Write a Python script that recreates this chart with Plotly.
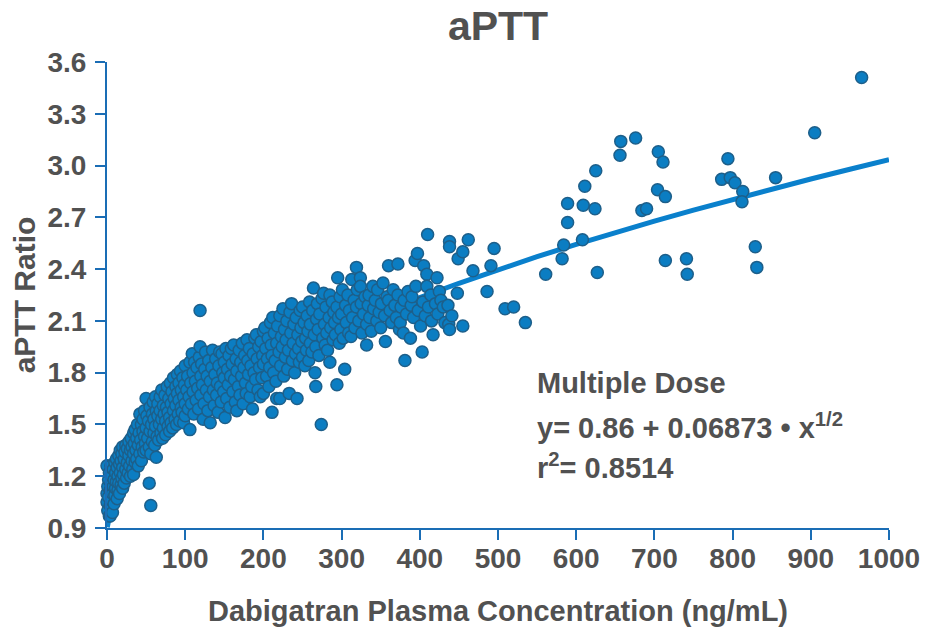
import plotly.graph_objects as go

# ---------------- data ----------------
conc_a = [0, 0, 0, 1, 1, 2, 2, 3, 3, 4, 4, 4, 5, 5, 6, 6, 7, 7, 8, 8, 9, 9, 10, 10, 11, 11, 12, 12, 13, 13,
          14, 14, 15, 15, 16, 16, 17, 17, 18, 18, 19, 19, 20, 20, 20]
ratio_a = [1.05, 1.10, 1.26, 1.00, 1.14, 1.08, 1.18, 0.97, 1.22, 1.03, 1.12, 0.97, 1.26, 1.16, 1.06, 1.20, 1.10, 0.99,
           1.24, 1.14, 1.04, 1.18, 1.28, 1.09, 1.22, 1.13, 1.17, 1.30, 1.07, 1.25,
           1.20, 1.12, 1.32, 1.16, 1.27, 1.10, 1.22, 1.35, 1.15, 1.29, 1.19, 1.33, 1.25, 1.37, 1.13]

conc_b = [21, 22, 22, 23, 24, 24, 25, 26, 26, 27, 28, 28, 29, 30, 30, 31, 32, 32, 33, 34, 34, 34, 35, 36, 36,
          37, 38, 38, 39, 40, 40, 41, 42, 42, 43, 44, 44, 45, 46, 46, 47, 48, 48, 49, 50, 50, 50, 51]
ratio_b = [1.21, 1.30, 1.16, 1.34, 1.24, 1.38, 1.19, 1.28, 1.36, 1.22, 1.32, 1.40, 1.26, 1.35, 1.20, 1.42, 1.29, 1.37,
           1.24, 1.33, 1.45, 1.21, 1.39, 1.28, 1.47, 1.35, 1.42, 1.30, 1.50, 1.38, 1.26, 1.45, 1.56, 1.33,
           1.41, 1.50, 1.29, 1.37, 1.46, 1.53, 1.34, 1.43, 1.58, 1.39, 1.48, 1.65, 1.35, 1.55]

conc_c = [52, 53, 54, 54, 55, 55, 56, 56, 57, 58, 58, 59, 60, 60, 61, 62, 62, 63, 63, 64, 65, 65, 66, 67, 68, 68,
          69, 70, 70, 71, 72, 72, 73, 74, 75, 75, 76, 77, 78, 78, 79, 80, 80, 81, 82, 82, 83, 84, 85, 85,
          86, 87, 88, 88, 89, 90, 90, 91, 92, 92, 93, 94, 95, 95, 96, 97, 98, 98, 99, 100, 100, 100]
ratio_c = [1.42, 1.52, 1.37, 1.16, 1.60, 1.46, 1.33, 1.03, 1.50, 1.56, 1.40, 1.63, 1.45, 1.53, 1.38, 1.66, 1.49,
           1.58, 1.31, 1.43, 1.55, 1.62, 1.41, 1.50, 1.58, 1.66, 1.45, 1.53, 1.70, 1.42, 1.61, 1.48, 1.56,
           1.67, 1.44, 1.52, 1.60, 1.72, 1.49, 1.57, 1.65, 1.46, 1.54, 1.74, 1.62, 1.51, 1.69, 1.48, 1.58,
           1.77, 1.65, 1.53, 1.72, 1.61, 1.50, 1.68, 1.79, 1.56, 1.64, 1.74, 1.52, 1.81, 1.60, 1.70, 1.57,
           1.77, 1.66, 1.51, 1.73, 1.62, 1.84, 1.55]

conc_d = [102, 103, 104, 105, 106, 106, 107, 108, 109, 110, 110, 111, 112, 113, 114, 115, 116, 117, 118, 119,
          119, 120, 120, 121, 122, 123, 124, 125, 126, 127, 128, 129, 130, 131, 132, 132, 134, 135, 136, 137,
          138, 139, 140, 141, 142, 143, 144, 145, 146, 147, 148, 149, 150, 150, 151]
ratio_d = [1.70, 1.78, 1.59, 1.66, 1.47, 1.86, 1.74, 1.62, 1.91, 1.69, 1.80, 1.56, 1.86, 1.75, 1.64, 1.83, 1.71,
           1.59, 1.89, 1.95, 2.16, 1.78, 1.67, 1.85, 1.73, 1.53, 1.62, 1.82, 1.92, 1.70, 1.78, 1.58, 1.87,
           1.66, 1.51, 1.75, 1.83, 1.93, 1.70, 1.61, 1.79, 1.88, 1.67, 1.74, 1.57, 1.84, 1.92, 1.72, 1.63,
           1.91, 1.80, 1.69, 1.86, 1.77, 1.54]

conc_e = [152, 153, 154, 155, 156, 157, 158, 159, 160, 161, 162, 163, 164, 165, 166, 166, 168, 169, 170, 171,
          172, 173, 174, 175, 176, 177, 178, 179, 180, 181, 182, 183, 184, 185, 186, 187, 188, 189, 190, 191,
          192, 193, 194, 195, 196, 197, 198, 199, 200, 200, 200]
ratio_e = [1.94, 1.65, 1.82, 1.73, 1.90, 1.60, 1.78, 1.94, 1.85, 1.69, 1.96, 1.76, 1.63, 1.88, 1.58, 1.81, 1.72,
           1.93, 1.67, 1.86, 1.78, 1.97, 1.62, 1.83, 1.90, 1.74, 1.68, 1.99, 1.87, 1.79, 1.94, 1.66, 1.84,
           1.72, 1.59, 1.91, 1.80, 2.00, 1.76, 2.02, 1.88, 1.70, 1.95, 1.83, 1.66, 1.98, 1.77, 1.90, 1.68,
           2.04, 1.85]

conc_f = [202, 203, 204, 205, 206, 207, 208, 209, 210, 211, 211, 212, 213, 214, 215, 216, 217, 217, 218, 220,
          221, 221, 222, 223, 224, 225, 226, 227, 228, 229, 230, 231, 232, 233, 234, 235, 236, 237, 238, 239,
          240, 241, 242, 243, 244, 245, 246, 247, 248, 249, 250, 250, 252, 253, 254, 255, 256, 257, 258, 259,
          260, 260]
ratio_f = [2.06, 1.94, 1.78, 1.88, 2.00, 1.72, 1.83, 2.09, 1.96, 1.57, 1.90, 2.12, 1.80, 2.03, 1.87, 1.75, 1.97,
           1.65, 2.07, 1.92, 2.13, 1.65, 1.84, 2.01, 1.95, 2.17, 1.78, 2.05, 1.89, 1.99, 2.10, 1.82, 1.93,
           1.68, 2.15, 2.03, 2.20, 1.87, 1.97, 2.08, 1.80, 1.91, 2.12, 1.65, 2.02, 1.94, 1.86, 2.16, 2.06,
           1.98, 2.18, 1.89, 2.09, 1.84, 2.00, 1.93, 2.13, 2.04, 1.87, 2.21, 1.97, 2.08]

conc_g = [262, 263, 264, 265, 266, 267, 267, 268, 269, 270, 271, 272, 274, 275, 276, 277, 278, 279, 280, 281,
          282, 284, 285, 285, 286, 288, 289, 290, 291, 292, 294, 294, 295, 296, 297, 298, 299, 300, 301, 302,
          304, 305, 306, 308, 309, 310, 312, 313, 314, 316, 317, 319, 319, 320, 322, 324, 324, 325, 326, 328,
          330, 332, 332]
ratio_g = [1.92, 2.16, 2.29, 2.02, 1.80, 1.72, 1.95, 2.11, 2.20, 2.05, 1.90, 2.14, 1.50, 2.23, 2.00, 2.26, 2.08,
           1.96, 2.18, 2.03, 1.93, 2.12, 2.25, 1.86, 2.06, 2.21, 1.99, 2.15, 2.09, 2.02, 1.73, 2.18, 2.35,
           2.12, 1.97, 2.24, 2.05, 2.14, 2.28, 2.00, 1.82, 2.19, 2.09, 2.25, 2.03, 2.16, 2.01, 2.34, 2.12,
           2.22, 2.06, 2.41, 2.18, 2.28, 2.10, 2.35, 2.30, 2.20, 2.03, 2.14, 2.24, 1.96, 2.08]

conc_h = [334, 335, 336, 338, 340, 341, 343, 345, 346, 348, 350, 351, 353, 355, 356, 358, 360, 360, 362, 364,
          366, 368, 370, 372, 372, 374, 375, 376, 379, 380, 381, 383, 385, 388, 389, 390, 392, 394, 395, 397,
          398, 401, 403, 404, 405, 407, 409, 409, 410, 411, 414, 415, 417, 420, 422, 423, 425, 427, 430, 432,
          436, 437, 438, 438, 438, 441, 448, 449, 455, 455, 462, 468, 486, 491, 495]
ratio_h = [2.19, 2.25, 2.12, 2.04, 2.30, 2.17, 2.22, 2.10, 2.28, 2.15, 2.06, 2.20, 2.32, 2.13, 1.98, 2.24, 2.22,
           2.42, 2.16, 2.09, 2.28, 2.19, 2.12, 2.43, 2.25, 2.05, 2.09, 2.18, 2.03, 2.22, 1.87, 2.14, 2.27,
           2.00, 2.19, 2.24, 2.12, 2.45, 2.30, 2.49, 2.16, 2.07, 1.92, 2.21, 2.42, 2.13, 2.37, 2.30, 2.60,
           2.18, 2.25, 2.10, 2.02, 2.20, 2.35, 2.14, 2.27, 2.22, 2.18, 2.09, 2.19, 2.08, 2.05, 2.56, 2.53,
           2.13, 2.26, 2.46, 2.50, 2.07, 2.57, 2.39, 2.27, 2.42, 2.52]

conc_i = [509, 520, 535, 561, 582, 584, 589, 589, 608, 609, 611, 625, 624, 627, 657, 656, 676, 684, 690, 705,
          711, 704, 714, 714, 741, 742, 786, 794, 797, 803, 813, 812, 829, 831, 855, 905, 965]
ratio_i = [2.17, 2.18, 2.09, 2.37, 2.46, 2.54, 2.67, 2.78, 2.57, 2.77, 2.88, 2.97, 2.75, 2.38, 3.14, 3.06, 3.16,
           2.74, 2.75, 3.08, 3.02, 2.86, 2.82, 2.45, 2.46, 2.37, 2.92, 3.04, 2.93, 2.90, 2.85, 2.79, 2.53,
           2.41, 2.93, 3.19, 3.51]

# fitted model shown on the chart: y = a + b * x^(1/2)
fit_a = 0.86
fit_b = 0.06873
fit_x = [0.4, 2, 5, 10, 20, 40, 70, 100, 150, 200, 250, 300, 350, 400, 450, 500, 550, 600, 650, 700,
         750, 800, 850, 900, 950, 1000]

x_ticks = [0, 100, 200, 300, 400, 500, 600, 700, 800, 900, 1000]
y_ticks = [0.9, 1.2, 1.5, 1.8, 2.1, 2.4, 2.7, 3.0, 3.3, 3.6]

title_text = "aPTT"
x_title = "Dabigatran Plasma Concentration (ng/mL)"
y_title = "aPTT Ratio"
note_lines = ["Multiple Dose", "y= 0.86 + 0.06873 • x<sup>1/2</sup>", "r<sup>2</sup>= 0.8514"]
note_y = [1.74, 1.49, 1.26]

# ---------------- figure ----------------
conc = conc_a + conc_b + conc_c + conc_d + conc_e + conc_f + conc_g + conc_h + conc_i
ratio = ratio_a + ratio_b + ratio_c + ratio_d + ratio_e + ratio_f + ratio_g + ratio_h + ratio_i
fit_y = [fit_a + fit_b * v ** 0.5 for v in fit_x]

TEXT = "#515151"
AXIS = "#1a6db5"
FONT = "Liberation Sans"

fig = go.Figure()
fig.add_trace(go.Scatter(x=fit_x, y=fit_y, mode="lines",
                         line=dict(color="#0a80cc", width=5), hoverinfo="skip", cliponaxis=True))
fig.add_trace(go.Scatter(x=conc, y=ratio, mode="markers", cliponaxis=False,
                         marker=dict(size=12, color="#0b7dc2", line=dict(color="#1d5f8a", width=1.5))))

for txt, yy in zip(note_lines, note_y):
    fig.add_annotation(x=547, y=yy, xref="x", yref="y", text=txt, showarrow=False,
                       xanchor="left", yanchor="middle",
                       font=dict(family=FONT, size=29, color=TEXT, weight="bold"))

axis_common = dict(showline=True, linecolor=AXIS, linewidth=2, ticks="outside", ticklen=10,
                   tickwidth=2, tickcolor=AXIS, showgrid=False, zeroline=False, automargin=False,
                   tickfont=dict(family=FONT, size=28, color=TEXT, weight="bold"))

fig.update_layout(
    width=925, height=631,
    margin=dict(l=107, r=36, t=62, b=103),
    paper_bgcolor="white", plot_bgcolor="white",
    showlegend=False,
    title=dict(text=title_text, x=0.5, xref="paper", xanchor="center", y=0.96, yanchor="middle",
               font=dict(family=FONT, size=41, color=TEXT, weight="bold")),
    xaxis=dict(range=[0, 1000], tickvals=x_ticks, ticklabelstandoff=-6,
               title=dict(text=x_title, standoff=28,
                          font=dict(family=FONT, size=29, color=TEXT, weight="bold")),
               **axis_common),
    yaxis=dict(range=[0.9, 3.6], tickvals=y_ticks, tickformat=".1f", ticklabelstandoff=3,
               title=dict(text=y_title, standoff=3,
                          font=dict(family=FONT, size=30, color=TEXT, weight="bold")),
               **axis_common),
)

# remove the page's default body margin so the figure fills the window exactly
fig.write_html("out.html", config={"displayModeBar": False},
               post_script="document.body.style.margin='0';document.body.style.overflow='hidden';")
